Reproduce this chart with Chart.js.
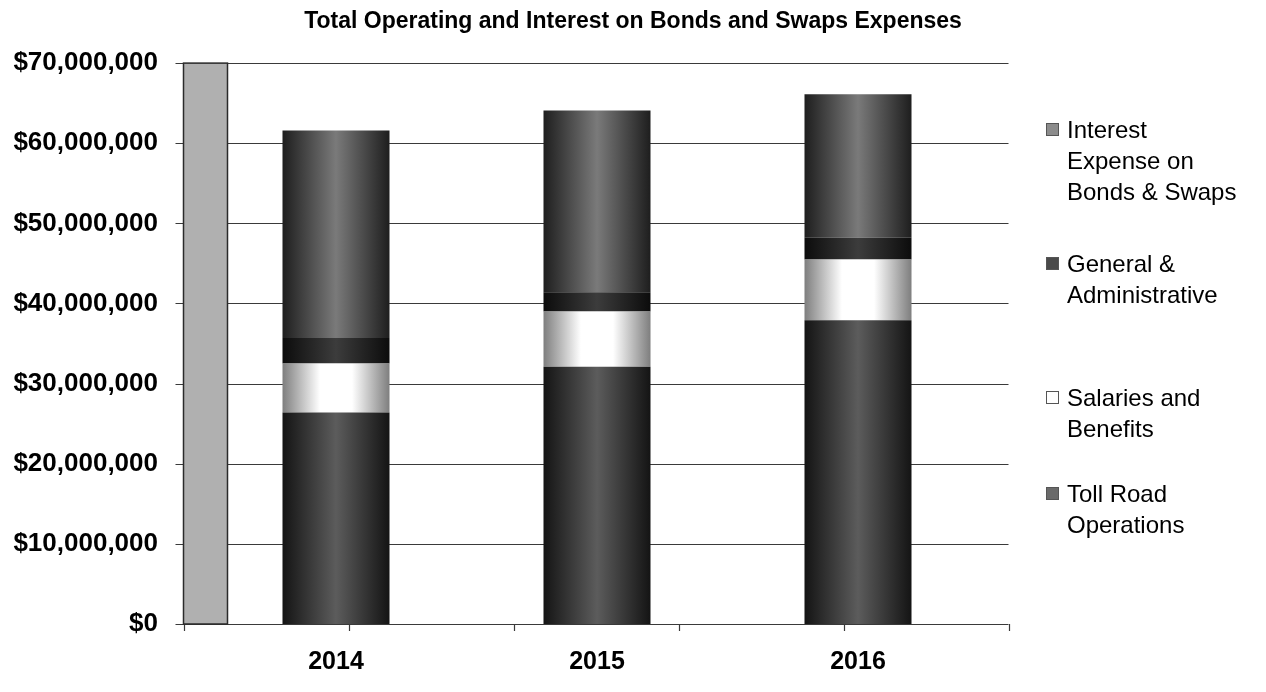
<!DOCTYPE html>
<html>
<head>
<meta charset="utf-8">
<script src="https://cdn.jsdelivr.net/npm/chart.js@4.4.1/dist/chart.umd.min.js"></script>
<style>
    html, body { margin: 0; padding: 0; background: #fff; }
    .wrap { position: relative; width: 1266px; height: 692px; }
    .legend { position: absolute; left: 0; top: 0; font-family: "Liberation Sans", Arial, sans-serif; font-size: 24px; color: #000; }
    .legend-item { position: absolute; left: 1046px; line-height: 31px; white-space: nowrap; }
    .legend-box { position: absolute; left: 0; top: 9px; width: 13px; height: 13px; box-sizing: border-box; }
    .legend-text { margin-left: 21px; }
</style>
</head>
<body>
<div class="wrap">
    <canvas id="chart" width="1266" height="692"></canvas>
    <div class="legend" id="legend"></div>
</div>
<script>
const years = ['2014', '2015', '2016'];
const tollRoad = [26400000, 32100000, 37900000];
const salaries = [6100000, 6900000, 7600000];
const generalAdmin = [3200000, 2400000, 2700000];
const interestExpense = [25900000, 22700000, 17900000];

const seriesLabels = [
    ['Toll Road', 'Operations'],
    ['Salaries and', 'Benefits'],
    ['General &', 'Administrative'],
    ['Interest', 'Expense on', 'Bonds & Swaps']
];
const yMax = 70000000;
const yStep = 10000000;

const FONT = "'Liberation Sans', Arial, sans-serif";
const BAR_PCT = 0.41;

// horizontal gradient so each bar looks like a cylinder
function cylinder(edge, mid, wide) {
    return (ctx) => {
        const chart = ctx.chart;
        const xs = chart.scales.x;
        if (!chart.chartArea || !xs) return mid;
        const cx = xs.getPixelForValue(ctx.dataIndex);
        const half = xs.width / years.length * BAR_PCT / 2;
        const g = chart.ctx.createLinearGradient(cx - half, 0, cx + half, 0);
        g.addColorStop(0, edge);
        g.addColorStop(wide ? 0.35 : 0.5, mid);
        if (wide) g.addColorStop(0.65, mid);
        g.addColorStop(1, edge);
        return g;
    };
}

const backdrop = {
    id: 'backdrop',
    beforeDatasetsDraw(chart) {
        const { ctx, chartArea } = chart;
        const y = chart.scales.y;
        const left = chartArea.left - 22;
        const right = chartArea.right + 20;
        ctx.save();
        // gridlines
        ctx.strokeStyle = '#3a3a3a';
        ctx.lineWidth = 1.2;
        for (let v = 0; v <= yMax; v += yStep) {
            const py = Math.round(y.getPixelForValue(v)) + 0.5;
            ctx.beginPath();
            ctx.moveTo(left - 8, py);
            ctx.lineTo(right, py);
            ctx.stroke();
        }
        // x axis tick marks under the floor
        const bottom = y.getPixelForValue(0);
        const step = (right - left) / 5;
        for (let i = 0; i <= 5; i++) {
            const px = Math.round(left + i * step) + 0.5;
            ctx.beginPath();
            ctx.moveTo(px, bottom);
            ctx.lineTo(px, bottom + 7);
            ctx.stroke();
        }
        // side wall
        const top = y.getPixelForValue(yMax);
        ctx.fillStyle = '#b0b0b0';
        ctx.fillRect(left, top, 44, bottom - top);
        ctx.strokeStyle = '#2a2a2a';
        ctx.lineWidth = 1.5;
        ctx.strokeRect(left, top, 44, bottom - top);
        ctx.restore();
    }
};

const chart = new Chart(document.getElementById('chart'), {
    type: 'bar',
    data: {
        labels: years,
        datasets: [
            { label: seriesLabels[0], data: tollRoad, backgroundColor: cylinder('#141414', '#5c5c5c'), legendColor: '#6a6a6a' },
            { label: seriesLabels[1], data: salaries, backgroundColor: cylinder('#7e7e7e', '#ffffff', true), legendColor: '#ffffff' },
            { label: seriesLabels[2], data: generalAdmin, backgroundColor: cylinder('#0c0c0c', '#3c3c3c'), legendColor: '#4a4a4a' },
            { label: seriesLabels[3], data: interestExpense, backgroundColor: cylinder('#1e1e1e', '#7a7a7a'), legendColor: '#8c8c8c' }
        ]
    },
    options: {
        responsive: false,
        animation: false,
        devicePixelRatio: 1,
        layout: { padding: 0 },
        datasets: { bar: { barPercentage: BAR_PCT, categoryPercentage: 1, borderWidth: 0 } },
        scales: {
            x: {
                stacked: true,
                grid: { display: false },
                border: { display: false },
                ticks: { color: '#000', padding: 15, font: { family: FONT, size: 25, weight: 'bold' } }
            },
            y: {
                stacked: true,
                min: 0,
                max: yMax,
                afterFit: (scale) => { scale.width = 205.5; },
                grid: { display: false, drawTicks: false },
                border: { display: false },
                ticks: {
                    stepSize: yStep,
                    color: '#000',
                    padding: 47.5,
                    font: { family: FONT, size: 26, weight: 'bold' },
                    callback: (v) => '$' + Number(v).toLocaleString('en-US')
                }
            },
            // empty right axis, only reserves the room the legend sits in
            room: {
                position: 'right',
                grid: { display: false },
                border: { display: false },
                ticks: { display: false },
                afterFit: (scale) => { scale.width = 277.5; }
            }
        },
        plugins: {
            legend: { display: false },
            tooltip: { enabled: false },
            title: {
                display: true,
                text: 'Total Operating and Interest on Bonds and Swaps Expenses',
                color: '#000',
                padding: { top: 6, bottom: 27.4 },
                font: { family: FONT, size: 23, weight: 'bold' }
            }
        }
    },
    plugins: [backdrop]
});

// legend drawn as html, newest series on top like the original
const legendTops = [478, 382, 248, 114];
const legendEl = document.getElementById('legend');
chart.data.datasets.forEach((ds, i) => {
    const item = document.createElement('div');
    item.className = 'legend-item';
    item.style.top = legendTops[i] + 'px';
    const box = document.createElement('div');
    box.className = 'legend-box';
    box.style.background = ds.legendColor;
    box.style.border = '1px solid #555';
    item.appendChild(box);
    const text = document.createElement('div');
    text.className = 'legend-text';
    text.innerHTML = ds.label.join('<br>');
    item.appendChild(text);
    legendEl.appendChild(item);
});
</script>
</body>
</html>
